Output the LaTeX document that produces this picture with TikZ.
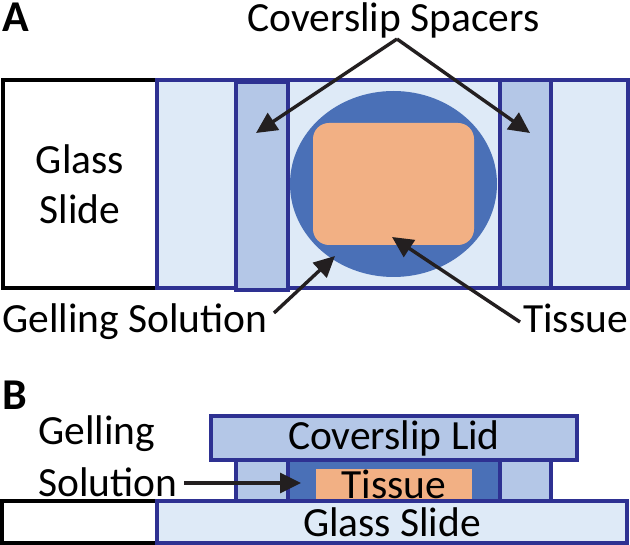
\documentclass[tikz,border=0pt]{standalone}
\usepackage{fontspec}
\setmainfont{Carlito}
\usetikzlibrary{arrows.meta,shapes.geometric}

\definecolor{rim}{RGB}{46,49,146}
\definecolor{slidefill}{RGB}{222,234,247}
\definecolor{spacerfill}{RGB}{180,199,231}
\definecolor{gelfill}{RGB}{74,112,183}
\definecolor{tissuefill}{RGB}{242,176,132}
\definecolor{ink}{RGB}{35,31,32}

\tikzset{
  slab/.style={rectangle, draw=rim, line width=3.6pt},
  glass/.style={rectangle, draw=black, fill=white, line width=3.2pt},
  slide/.style={slab, fill=slidefill},
  spacer/.style={slab, fill=spacerfill},
  tissue/.style={rectangle, fill=tissuefill},
  pointer/.style={draw=ink, line width=3.4pt, -{Triangle[length=21pt,width=20pt]}},
  panel/.style={font=\fontsize{44}{48}\selectfont\bfseries}
}

\begin{document}
\begin{tikzpicture}[x=1pt,y=-1pt,
    every node/.style={font=\fontsize{41.5}{50}\selectfont, inner sep=0pt}]

  \useasboundingbox (0,0) rectangle (630,545);

  % panel A, seen from above
  \node[glass, minimum width=154pt, minimum height=208pt, align=center] (glassA) at (80,184) {Glass\\Slide};
  \node[slide, minimum width=471pt, minimum height=208pt] (slideA) at (392.5,184) {};
  \node[spacer, minimum width=52pt, minimum height=208pt] (lspA) at (262,186) {};
  \node[spacer, minimum width=51pt, minimum height=208pt] (rspA) at (525.5,184) {};
  \node[ellipse, fill=gelfill, minimum width=207pt, minimum height=186pt] (gelA) at (393.5,184) {};
  \node[tissue, rounded corners=16pt, minimum width=161pt, minimum height=122pt] (tissueA) at (393.5,184) {};

  \node[panel, anchor=base west] (labA) at (2,32) {A};
  \node[anchor=base] (spacerlbl) at (393.5,32) {Coverslip Spacers};
  \node[anchor=base west] (gellblA) at (2,333) {Gelling Solution};
  \node[anchor=base east] (tislblA) at (628,333) {Tissue};

  \coordinate (apex) at (397,39);
  \coordinate (lspt) at (256,133);
  \coordinate (rspt) at (530,133);
  \coordinate (gelfrom) at (274,313);
  \coordinate (gelto) at (335,256);
  \coordinate (tisfrom) at (520,322);
  \coordinate (tisto) at (392,237);

  \path (apex) edge[pointer] (lspt);
  \path (apex) edge[pointer] (rspt);
  \path (gelfrom) edge[pointer] (gelto);
  \path (tisfrom) edge[pointer] (tisto);

  % panel B, side view
  \node[spacer, minimum width=52pt, minimum height=41pt] (lspB) at (262,480.5) {};
  \node[spacer, minimum width=51pt, minimum height=41pt] (rspB) at (525.5,480.5) {};
  \node[slab, fill=gelfill, minimum width=212pt, minimum height=41pt] (gelB) at (394,480.5) {};
  \node[tissue, minimum width=156pt, minimum height=31pt] (tissueB) at (394,484.5) {Tissue};
  \node[glass, minimum width=155pt, minimum height=42pt] (glassB) at (79.5,522) {};
  \node[slide, minimum width=470pt, minimum height=42pt] (slideB) at (392,522) {Glass Slide};
  \node[spacer, minimum width=366pt, minimum height=44pt] (lidB) at (394,438) {Coverslip Lid};

  \node[panel, anchor=base west] (labB) at (2,410) {B};
  \node[anchor=base west, align=left, font=\fontsize{41.5}{52}\selectfont] (gellblB) at (38,497) {Gelling\\Solution};

  \coordinate (solfrom) at (184,483);
  \coordinate (solto) at (301,483);
  \path (solfrom) edge[pointer] (solto);

\end{tikzpicture}
\end{document}
